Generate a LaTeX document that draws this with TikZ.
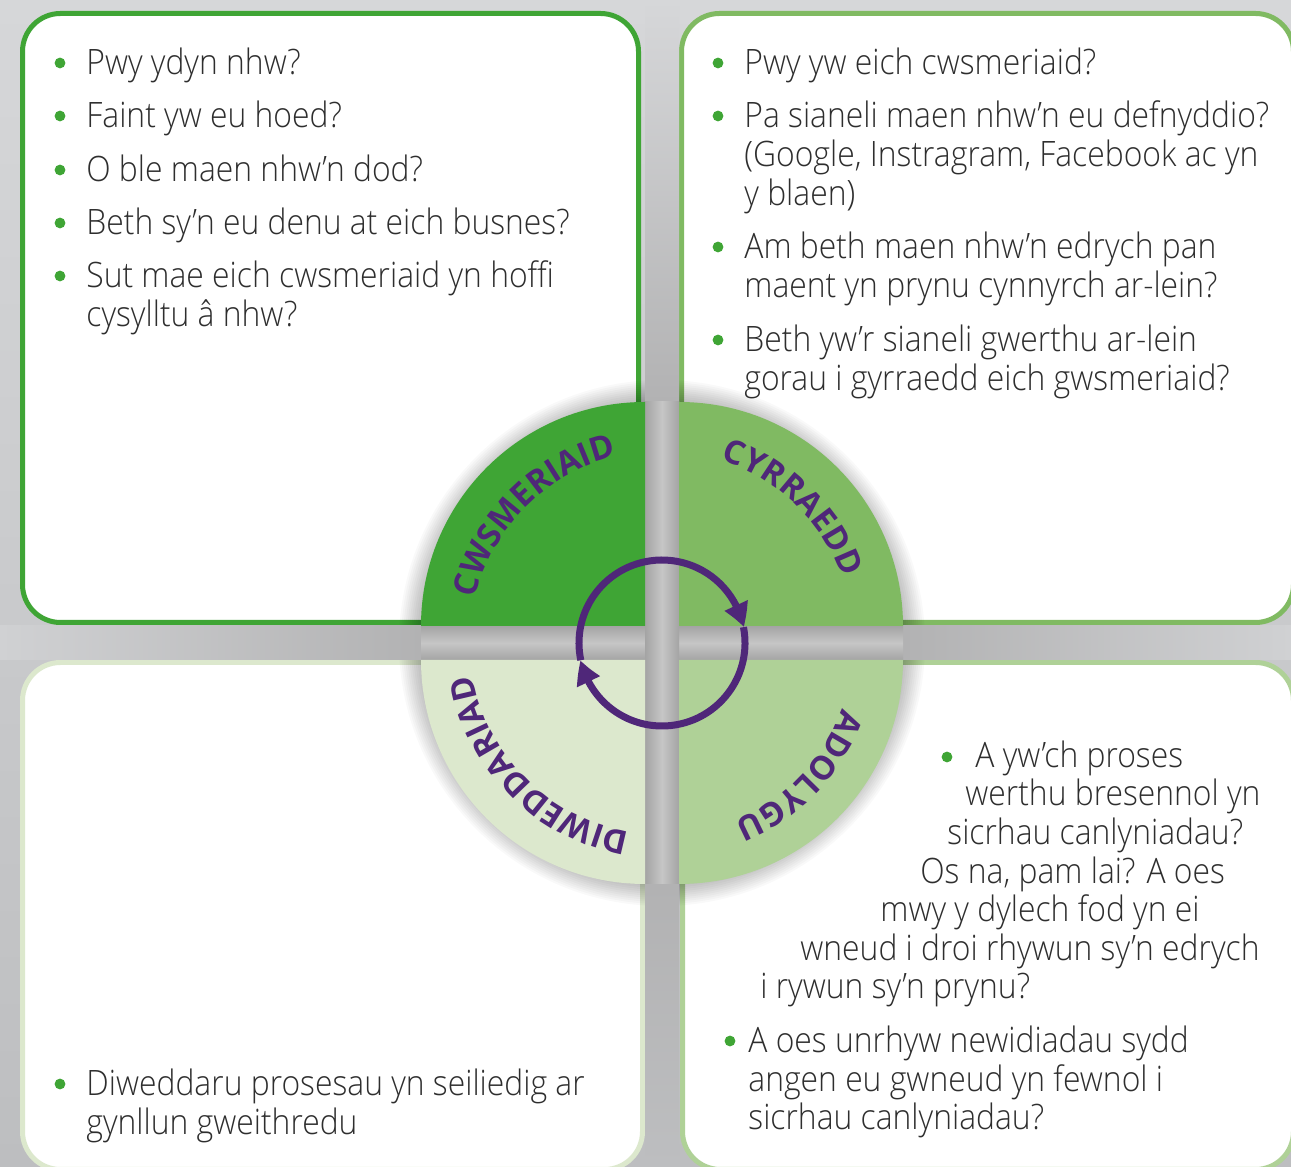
\documentclass[tikz,border=0pt]{standalone}
\usepackage{fontspec}
\setmainfont{Open Sans}
\newfontfamily\bodyfont{Open Sans Light}[FakeStretch=0.91]
\newfontfamily\lblfont{Open Sans}[LetterSpace=5]
\usetikzlibrary{decorations.text, arrows.meta, bending}
\definecolor{dkgreen}{HTML}{3FA535}
\definecolor{mdgreen}{HTML}{80BA62}
\definecolor{ltgreen}{HTML}{AFD197}
\definecolor{plgreen}{HTML}{DCE8CD}
\definecolor{lblpurple}{HTML}{4F2779}
\definecolor{txtgray}{HTML}{2E2E2E}
\definecolor{bgtop}{HTML}{D6D7D9}
\definecolor{bgbot}{HTML}{BDBEC0}
\definecolor{gapdark}{HTML}{A4A4A4}
\definecolor{gaplight}{HTML}{C6C6C6}
\definecolor{bandlight}{HTML}{D0D1D3}
\definecolor{banddark}{HTML}{B2B2B3}
\newcommand{\lblfmt}{\lblfont\bfseries\fontsize{16.5}{19}\selectfont\color{lblpurple}}
\begin{document}
\begin{tikzpicture}[x=0.5pt,y=0.5pt,
  box/.style={draw, fill=white, line width=2.5pt, rounded corners=19pt, inner sep=0pt},
  txt/.style={anchor=base west, inner sep=0pt, text=txtgray, font=\bodyfont\fontsize{17.5}{21}\selectfont},
  bul/.style={circle, fill=dkgreen, inner sep=0pt, minimum size=5.4pt},
  arrowcirc/.style={draw=lblpurple, line width=3.5pt, -{Triangle[width=12pt,length=11.5pt,bend]}}
]
\useasboundingbox (0,0) rectangle (1291,1167);
\clip (0,0) rectangle (1291,1167);
% background
\shade[top color=bgtop, bottom color=bgbot] (0,0) rectangle (1291,1167);
% boxes
\node[box, draw=dkgreen, minimum width=308pt, minimum height=304.5pt] (boxTL) at (330.5,849) {};
\node[box, draw=mdgreen, minimum width=306pt, minimum height=304.5pt] (boxTR) at (987.5,849) {};
\node[box, draw=plgreen, minimum width=310pt, minimum height=253.5pt] (boxBL) at (332.5,251) {};
\node[box, draw=ltgreen, minimum width=305.5pt, minimum height=253.5pt] (boxBR) at (988,251) {};
% centre
\coordinate (C) at (662,524);
\foreach \r in {225,227,...,263} \fill[black, opacity=0.022] (C) circle[radius=\r];
% gaps between the boxes
\shade[left color=bandlight, right color=banddark] (0,507) rectangle (421,541);
\shade[left color=banddark, right color=bandlight] (903,507) rectangle (1291,541);
\shade[top color=bgtop, bottom color=banddark] (645,765) rectangle (679,1167);
\shade[top color=banddark, bottom color=bgbot] (645,0) rectangle (679,283);
\shade[top color=gapdark, bottom color=gapdark, middle color=gaplight] (421,507) rectangle (903,541);
\shade[left color=gapdark, right color=gapdark, middle color=gaplight] (645,283) rectangle (679,765);
% quadrants
\fill[dkgreen] (645,541) -- ++(-224,0) arc[start angle=180, end angle=90, radius=224] -- cycle;
\fill[mdgreen] (679,541) -- ++(0,224) arc[start angle=90, end angle=0, radius=224] -- cycle;
\fill[plgreen] (645,507) -- ++(0,-224) arc[start angle=270, end angle=180, radius=224] -- cycle;
\fill[ltgreen] (679,507) -- ++(224,0) arc[start angle=0, end angle=-90, radius=224] -- cycle;
% cycle arrows
\draw[arrowcirc] (C) ++(192:83) arc[start angle=192, end angle=11, radius=83];
\draw[arrowcirc] (C) ++(11:83) arc[start angle=11, end angle=-168, radius=83];
% labels
\path[decorate, decoration={text along path, text align=center, text={|\lblfmt|CWSMERIAID}}]
  (C) ++(178:192) arc[start angle=178, end angle=92, radius=192];
\path[decorate, decoration={text along path, text align=center, text={|\lblfmt|CYRRAEDD}}]
  (C) ++(89:192) arc[start angle=89, end angle=3, radius=192];
\path[decorate, decoration={text along path, text align=center, text={|\lblfmt|DIWEDDARIAD}}]
  (C) ++(268:192) arc[start angle=268, end angle=182, radius=192];
\path[decorate, decoration={text along path, text align=center, text={|\lblfmt|ADOLYGU}}]
  (C) ++(-1:192) arc[start angle=-1, end angle=-87, radius=192];
% top-left text
\node[bul] (b1) at (60,1104) {};
\node[bul] (b2) at (60,1051) {};
\node[bul] (b3) at (60,997) {};
\node[bul] (b4) at (60,944) {};
\node[bul] (b5) at (60,891) {};
\node[txt] (t1) at (86,1092) {Pwy ydyn nhw?};
\node[txt] (t2) at (86,1039) {Faint yw eu hoed?};
\node[txt] (t3) at (86,985) {O ble maen nhw’n dod?};
\node[txt] (t4) at (86,932) {Beth sy’n eu denu at eich busnes?};
\node[txt] (t5) at (86,879) {Sut mae eich cwsmeriaid yn hoffi};
\node[txt] (t5b) at (86,840) {cysylltu â nhw?};
% top-right text
\node[bul] (c1) at (718,1104) {};
\node[bul] (c2) at (718,1051) {};
\node[bul] (c3) at (718,920) {};
\node[bul] (c4) at (718,827) {};
\node[txt] (r1) at (744,1092) {Pwy yw eich cwsmeriaid?};
\node[txt] (r2) at (744,1039) {Pa sianeli maen nhw’n eu defnyddio?};
\node[txt] (r2b) at (744,1000) {(Google, Instragram, Facebook ac yn};
\node[txt] (r2c) at (744,961) {y blaen)};
\node[txt] (r3) at (744,908) {Am beth maen nhw’n edrych pan};
\node[txt] (r3b) at (744,869) {maent yn prynu cynnyrch ar-lein?};
\node[txt] (r4) at (744,815) {Beth yw’r sianeli gwerthu ar-lein};
\node[txt] (r4b) at (744,776) {gorau i gyrraedd eich gwsmeriaid?};
% bottom-right text
\node[bul] (d1) at (947,410) {};
\node[bul] (d2) at (730,126) {};
\node[txt] (s1) at (975,399) {A yw’ch proses};
\node[txt] (s1b) at (965,361) {werthu bresennol yn};
\node[txt] (s1c) at (947,322) {sicrhau canlyniadau?};
\node[txt] (s1d) at (920,283) {Os na, pam lai? A oes};
\node[txt] (s1e) at (880,245) {mwy y dylech fod yn ei};
\node[txt] (s1f) at (800,206) {wneud i droi rhywun sy’n edrych};
\node[txt] (s1g) at (760,168) {i rywun sy’n prynu?};
\node[txt] (s2) at (748,114) {A oes unrhyw newidiadau sydd};
\node[txt] (s2b) at (748,75) {angen eu gwneud yn fewnol i};
\node[txt] (s2c) at (748,37) {sicrhau canlyniadau?};
% bottom-left text
\node[bul] (e1) at (60,83) {};
\node[txt] (u1) at (86,71) {Diweddaru prosesau yn seiliedig ar};
\node[txt] (u1b) at (86,32) {gynllun gweithredu};
\end{tikzpicture}
\end{document}
